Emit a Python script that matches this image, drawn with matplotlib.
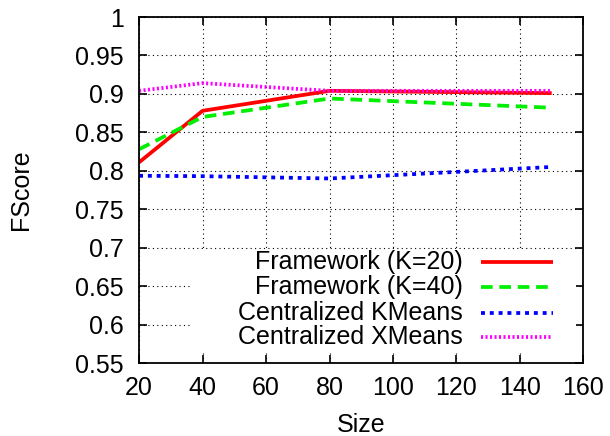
import matplotlib
matplotlib.use('Agg')
import matplotlib.pyplot as plt
from matplotlib.patches import Rectangle
from matplotlib.lines import Line2D

plt.rcParams['font.family'] = ['Liberation Sans', 'DejaVu Sans']

# data
sizes = [20, 40, 80, 150]
fw_k20 = [0.811, 0.878, 0.904, 0.901]
fw_k40 = [0.828, 0.870, 0.894, 0.882]
central_kmeans = [0.7935, 0.793, 0.790, 0.805]
central_xmeans = [0.904, 0.914, 0.904, 0.904]

labels = ['Framework (K=20)', 'Framework (K=40)',
          'Centralized KMeans', 'Centralized XMeans']
colors = ['#ff0000', '#00ee00', '#0000ff', '#ff00ff']
dashes = [None, (3.1, 1.8), (1.05, 1.3), (0.55, 0.65)]
series = [fw_k20, fw_k40, central_kmeans, central_xmeans]

xticks = [20, 40, 60, 80, 100, 120, 140, 160]
yticks = [0.55, 0.6, 0.65, 0.7, 0.75, 0.8, 0.85, 0.9, 0.95, 1.0]
ytick_labels = ['0.55', '0.6', '0.65', '0.7', '0.75', '0.8', '0.85', '0.9', '0.95', '1']

fig = plt.figure(figsize=(6.1, 4.36), dpi=100)
ax = fig.add_axes([0.228, 0.1674, 0.7284, 0.7936])

lw = 2.7
for vals, c, d in zip(series, colors, dashes):
    line, = ax.plot(sizes, vals, color=c, lw=lw, solid_capstyle='butt',
                    dash_capstyle='butt', zorder=3)
    if d is not None:
        line.set_dashes(d)

ax.set_xlim(20, 160)
ax.set_ylim(0.55, 1.0)
ax.set_xticks(xticks)
ax.set_yticks(yticks)
ax.set_yticklabels(ytick_labels)
ax.tick_params(direction='in', length=6, width=1.2, top=True, right=True,
               labelsize=18, colors='black')
ax.tick_params(axis='y', pad=11)
ax.tick_params(axis='x', pad=9)
ax.grid(True, color='black', linestyle=(0, (1, 3)), linewidth=0.8, zorder=1)
for s in ax.spines.values():
    s.set_linewidth(1.3)
    s.set_zorder(6)

ax.set_xlabel('Size', fontsize=18, labelpad=10)
ax.set_ylabel('FScore', fontsize=18, labelpad=30)

# gnuplot style key: opaque box, right-aligned text, sample on the right
ax.add_patch(Rectangle((0.12, 0.03), 0.864, 0.297, transform=ax.transAxes,
                       facecolor='white', edgecolor='none', zorder=4))
key_y = [0.293, 0.220, 0.145, 0.076]
for lab, c, d, y in zip(labels, colors, dashes, key_y):
    ax.text(0.729, y, lab, transform=ax.transAxes, ha='right', va='center',
            fontsize=18, zorder=5)
    kl = Line2D([0.770, 0.932], [y, y], transform=ax.transAxes, color=c,
                lw=lw, solid_capstyle='butt', dash_capstyle='butt', zorder=5)
    if d is not None:
        kl.set_dashes(d)
    ax.add_line(kl)

fig.savefig('out.png', dpi=100)
